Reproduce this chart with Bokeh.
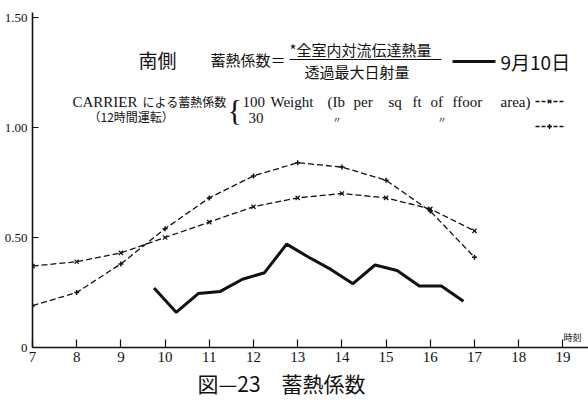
from bokeh.plotting import figure
from bokeh.models import Label, FixedTicker, Range1d, Title
from bokeh.embed import file_html
from bokeh.resources import INLINE

# ---------------- data ----------------
hours = [7, 8, 9, 10, 11, 12, 13, 14, 15, 16, 17]
carrier_100 = [0.37, 0.39, 0.43, 0.50, 0.57, 0.64, 0.68, 0.70, 0.68, 0.63, 0.53]
carrier_30 = [0.19, 0.25, 0.38, 0.54, 0.68, 0.78, 0.84, 0.82, 0.76, 0.62, 0.41]

sept10_hours = [9.75, 10.25, 10.75, 11.25, 11.75, 12.25, 12.75, 13.25, 13.75,
                14.25, 14.75, 15.25, 15.75, 16.25, 16.75]
sept10_values = [0.27, 0.16, 0.245, 0.255, 0.31, 0.34, 0.47, 0.41, 0.355,
                 0.29, 0.375, 0.35, 0.28, 0.28, 0.21]

x_ticks = list(range(7, 20))
y_ticks = [0, 0.5, 1.0, 1.5]
y_tick_labels = ["0", "0.50", "1.00", "1.50"]

# ---------------- layout helpers ----------------
W, H = 588, 409
LEFT, RIGHT, TOP, BOTTOM = 32, 0, 12, 62
PX_PER_HOUR = 44.2
PX_PER_UNIT = 220.0
X_END = 7 + (W - LEFT - RIGHT) / PX_PER_HOUR
Y_END = (H - TOP - BOTTOM) / PX_PER_UNIT


def X(px):  # page x -> data x
    return 7 + (px - LEFT) / PX_PER_HOUR


def Y(py):  # page y -> data y
    return (H - BOTTOM - py) / PX_PER_UNIT


SERIF = "Liberation Serif"
JP = "Noto Sans CJK JP"
INK = "#111111"

p = figure(width=W, height=H, output_backend="svg", toolbar_location=None,
           x_range=Range1d(7, X_END), y_range=Range1d(0, Y_END),
           min_border_left=LEFT, min_border_right=RIGHT,
           min_border_top=TOP, min_border_bottom=BOTTOM)
p.outline_line_color = None
p.grid.visible = False
p.background_fill_color = "white"
p.border_fill_color = "white"

# axes
for ax in (p.xaxis[0], p.yaxis[0]):
    ax.axis_line_color = INK
    ax.axis_line_width = 1.6
    ax.major_tick_line_color = INK
    ax.major_tick_line_width = 1.2
    ax.minor_tick_line_color = None
    ax.major_tick_out = 0
    ax.major_label_text_color = INK
    ax.major_label_text_font = SERIF

p.xaxis.ticker = FixedTicker(ticks=x_ticks)
p.xaxis.major_tick_in = 8
p.xaxis.major_label_text_font_size = "15px"
p.xaxis.major_label_standoff = 4

p.yaxis.ticker = FixedTicker(ticks=y_ticks)
p.yaxis.major_label_overrides = {t: s for t, s in zip(y_ticks, y_tick_labels)}
p.yaxis.major_tick_in = 6
p.yaxis.major_label_text_font_size = "13px"
p.yaxis.major_label_standoff = 5

# caption below the axis
p.add_layout(Title(text="図—23　蓄熱係数", text_font=JP, text_font_size="21px",
                   text_font_style="normal", text_color=INK, align="left",
                   offset=197 - LEFT, standoff=2), "below")

# series
p.line(hours, carrier_100, line_color=INK, line_width=1.3, line_dash="6 3")
p.scatter(hours, carrier_100, marker="x", size=6, line_color=INK, line_width=1.2)
p.line(hours, carrier_30, line_color=INK, line_width=1.3, line_dash="6 3")
p.scatter(hours, carrier_30, marker="cross", size=5, line_color=INK, line_width=1.5)
p.line(sept10_hours, sept10_values, line_color=INK, line_width=3)


def label(text, px, py, size, font=JP, align="left"):
    p.add_layout(Label(x=X(px), y=Y(py), text=text, text_font=font,
                       text_font_size=f"{size}px", text_color=INK,
                       text_baseline="middle", text_align=align))


# title / formula legend
label("南側", 138, 59, 19)
label("蓄熱係数＝", 210, 59, 15)
label("*全室内対流伝達熱量", 289, 49, 15)
label("透過最大日射量", 304, 71, 15)
p.segment(x0=[X(289)], y0=[Y(59)], x1=[X(441)], y1=[Y(59)],
          line_color=INK, line_width=1.2)
p.segment(x0=[X(452)], y0=[Y(61)], x1=[X(495)], y1=[Y(61)],
          line_color=INK, line_width=3)
label("9月10日", 500, 61, 19)

# CARRIER legend
label("CARRIER", 72, 101, 15, font=SERIF)
label("による蓄熱係数", 142, 101, 12)
label("（12時間運転）", 88, 116, 12)
label("{", 227, 109, 30, font=SERIF)
for word, px in [("100", 242), ("Weight", 270), ("(Ib", 327), ("per", 353),
                 ("sq", 388), ("ft", 412), ("of", 430), ("ffoor", 452),
                 ("area)", 500)]:
    label(word, px, 101, 15, font=SERIF)
label("30", 248, 117, 15, font=SERIF)
label("〃", 332, 119, 9)
label("〃", 437, 119, 9)

p.segment(x0=[X(535)], y0=[Y(101)], x1=[X(564)], y1=[Y(101)],
          line_color=INK, line_width=1.3, line_dash="4 2")
p.scatter([X(549)], [Y(101)], marker="x", size=5, line_color=INK, line_width=1.1)
p.segment(x0=[X(535)], y0=[Y(126)], x1=[X(564)], y1=[Y(126)],
          line_color=INK, line_width=1.3, line_dash="4 2")
p.scatter([X(549)], [Y(126)], marker="cross", size=5, line_color=INK, line_width=1.4)

# axis unit
label("時刻", 563, 337, 9)

open("out.html", "w").write(file_html(p, INLINE))
